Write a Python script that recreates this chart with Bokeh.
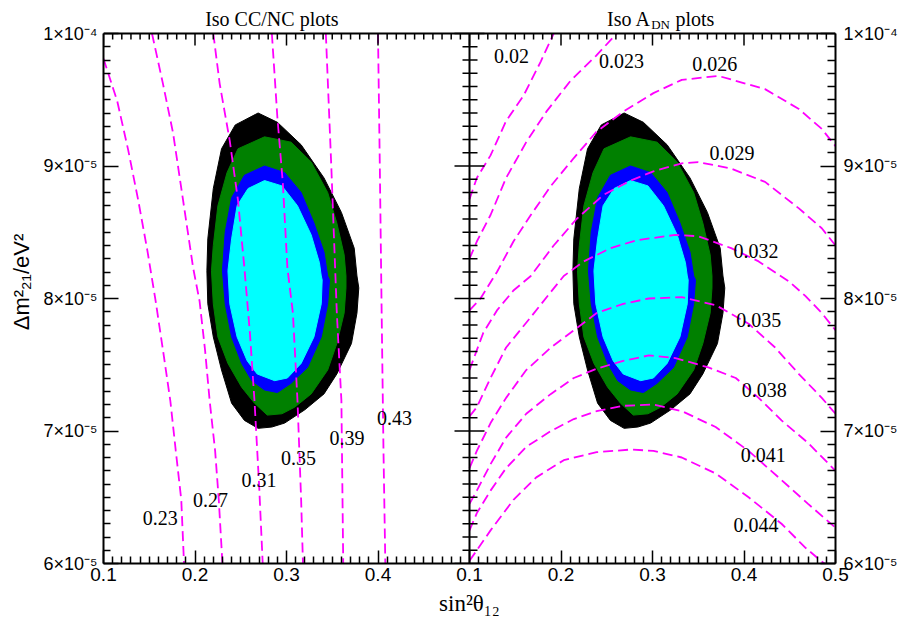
import numpy as np
from bokeh.plotting import figure
from bokeh.models import Range1d, LinearAxis, FixedTicker, Label, Span
from bokeh.core.properties import value
from bokeh.embed import file_html
from bokeh.resources import INLINE

SANS = "Liberation Sans"
SERIF = "Liberation Serif"
MAGENTA = "#ff00ff"

# ---------------- data (y in units of 1e-5 eV^2) ----------------
# allowed regions (same in both panels)
black_x = [0.269, 0.290, 0.316, 0.341, 0.360, 0.374, 0.377, 0.379, 0.377, 0.371, 0.355, 0.341, 0.320,
           0.298, 0.284, 0.269, 0.254, 0.240, 0.229, 0.220, 0.214, 0.213, 0.214, 0.220, 0.229, 0.244]
black_y = [9.40, 9.33, 9.16, 8.91, 8.65, 8.38, 8.17, 8.08, 7.89, 7.66, 7.43, 7.28, 7.16,
           7.06, 7.03, 7.02, 7.08, 7.21, 7.46, 7.71, 7.96, 8.21, 8.45, 8.83, 9.13, 9.31]
green_x = [0.276, 0.305, 0.327, 0.345, 0.355, 0.363, 0.365, 0.365, 0.363, 0.355, 0.345, 0.327, 0.309,
           0.295, 0.279, 0.265, 0.251, 0.236, 0.225, 0.220, 0.218, 0.220, 0.225, 0.235, 0.247]
green_y = [9.22, 9.18, 9.03, 8.80, 8.57, 8.33, 8.17, 8.08, 7.89, 7.66, 7.46, 7.28, 7.18,
           7.13, 7.12, 7.21, 7.33, 7.51, 7.71, 7.96, 8.21, 8.40, 8.70, 8.95, 9.13]
blue_x = [0.276, 0.298, 0.316, 0.330, 0.341, 0.345, 0.347, 0.345, 0.338, 0.323, 0.305, 0.290, 0.276,
          0.262, 0.251, 0.240, 0.233, 0.230, 0.233, 0.240, 0.254]
blue_y = [9.00, 8.95, 8.80, 8.57, 8.35, 8.17, 8.14, 7.96, 7.71, 7.48, 7.36, 7.29, 7.31,
          7.38, 7.51, 7.71, 7.96, 8.21, 8.50, 8.76, 8.93]
cyan_x = [0.276, 0.295, 0.312, 0.327, 0.336, 0.338, 0.339, 0.338, 0.330, 0.316, 0.301, 0.287, 0.268,
          0.257, 0.246, 0.238, 0.236, 0.240, 0.246, 0.258]
cyan_y = [8.89, 8.85, 8.70, 8.48, 8.27, 8.17, 8.14, 7.96, 7.71, 7.51, 7.40, 7.38, 7.43,
          7.53, 7.71, 7.96, 8.21, 8.45, 8.70, 8.83]

# Iso CC/NC lines (left panel)
cc_levels = ["0.23", "0.27", "0.31", "0.35", "0.39", "0.43"]
cc_x = [
    [0.100, 0.115, 0.127, 0.138, 0.148, 0.157, 0.165, 0.173, 0.179, 0.185, 0.188],
    [0.153, 0.165, 0.176, 0.187, 0.198, 0.205, 0.211, 0.216, 0.222, 0.226, 0.230],
    [0.220, 0.227, 0.238, 0.247, 0.254, 0.260, 0.265, 0.270, 0.274],
    [0.284, 0.290, 0.296, 0.301, 0.307, 0.312, 0.316, 0.318],
    [0.343, 0.349, 0.355, 0.360, 0.362],
    [0.400, 0.402, 0.404, 0.406, 0.408],
]
cc_y = [
    [9.81, 9.49, 9.12, 8.74, 8.36, 7.98, 7.61, 7.23, 6.85, 6.48, 6.00],
    [10.0, 9.62, 9.25, 8.74, 8.23, 7.98, 7.61, 7.23, 6.85, 6.48, 6.00],
    [10.0, 9.62, 9.19, 8.74, 8.23, 7.74, 7.23, 6.60, 6.00],
    [10.0, 9.37, 8.87, 8.23, 7.89, 7.23, 6.48, 6.00],
    [10.0, 8.99, 7.89, 7.23, 6.00],
    [10.0, 8.99, 7.89, 6.85, 6.00],
]
cc_label_x = [0.162, 0.217, 0.270, 0.313, 0.366, 0.418]
cc_label_y = [6.34, 6.48, 6.63, 6.80, 6.95, 7.10]

# Iso A_DN lines (right panel)
adn_levels = ["0.02", "0.023", "0.026", "0.029", "0.032", "0.035", "0.038", "0.041", "0.044"]
adn_x = [
    [0.100, 0.108, 0.123, 0.140, 0.159, 0.178, 0.192],
    [0.100, 0.108, 0.123, 0.140, 0.162, 0.184, 0.210, 0.238, 0.261],
    [0.100, 0.112, 0.130, 0.148, 0.167, 0.189, 0.214, 0.239, 0.268, 0.301, 0.332, 0.372, 0.423, 0.460, 0.485, 0.500],
    [0.100, 0.108, 0.115, 0.130, 0.148, 0.167, 0.192, 0.217, 0.246, 0.276, 0.301, 0.332, 0.350, 0.386, 0.423, 0.460, 0.485, 0.500],
    [0.100, 0.108, 0.123, 0.140, 0.167, 0.189, 0.203, 0.225, 0.254, 0.283, 0.325, 0.350, 0.386, 0.416, 0.449, 0.467, 0.485, 0.500],
    [0.100, 0.108, 0.123, 0.140, 0.162, 0.189, 0.214, 0.239, 0.268, 0.296, 0.332, 0.369, 0.405, 0.434, 0.460, 0.485, 0.500],
    [0.100, 0.108, 0.123, 0.140, 0.162, 0.189, 0.214, 0.239, 0.268, 0.296, 0.325, 0.361, 0.391, 0.416, 0.441, 0.470, 0.500],
    [0.100, 0.108, 0.123, 0.140, 0.162, 0.189, 0.214, 0.239, 0.268, 0.301, 0.332, 0.369, 0.405, 0.441, 0.470, 0.500],
    [0.100, 0.108, 0.123, 0.148, 0.173, 0.203, 0.239, 0.276, 0.301, 0.332, 0.369, 0.405, 0.441, 0.467, 0.484, 0.488],
]
adn_y = [
    [8.75, 8.91, 9.08, 9.34, 9.53, 9.79, 10.00],
    [8.30, 8.43, 8.63, 8.91, 9.18, 9.41, 9.64, 9.83, 10.00],
    [7.91, 8.00, 8.20, 8.43, 8.63, 8.85, 9.06, 9.26, 9.41, 9.55, 9.65, 9.68, 9.58, 9.43, 9.28, 9.15],
    [7.46, 7.61, 7.74, 7.91, 8.06, 8.17, 8.40, 8.60, 8.78, 8.89, 8.96, 9.02, 9.03, 8.98, 8.88, 8.68, 8.53, 8.40],
    [7.11, 7.18, 7.40, 7.63, 7.86, 8.05, 8.17, 8.28, 8.38, 8.44, 8.48, 8.47, 8.38, 8.28, 8.13, 8.02, 7.89, 7.76],
    [6.72, 6.85, 7.06, 7.25, 7.46, 7.63, 7.76, 7.89, 7.96, 8.00, 8.01, 7.95, 7.81, 7.63, 7.43, 7.25, 7.13],
    [6.45, 6.55, 6.75, 6.95, 7.13, 7.28, 7.40, 7.47, 7.53, 7.57, 7.55, 7.48, 7.40, 7.25, 7.08, 6.91, 6.70],
    [6.25, 6.38, 6.55, 6.72, 6.88, 7.00, 7.09, 7.15, 7.19, 7.20, 7.15, 7.03, 6.85, 6.63, 6.45, 6.27],
    [6.02, 6.10, 6.25, 6.48, 6.65, 6.78, 6.84, 6.86, 6.85, 6.80, 6.68, 6.50, 6.30, 6.12, 6.02, 6.00],
]
adn_label_x = [0.146, 0.266, 0.368, 0.387, 0.413, 0.416, 0.422, 0.421, 0.413]
adn_label_y = [9.83, 9.79, 9.77, 9.10, 8.36, 7.84, 7.31, 6.82, 6.29]

# ticks (shared bottom axis: left panel 0.1-0.5, right panel shifted by 0.4)
x_ticks = [0.1, 0.2, 0.3, 0.4, 0.5, 0.6, 0.7, 0.8, 0.9]
x_tick_labels = ["0.1", "0.2", "0.3", "0.4", "0.1", "0.2", "0.3", "0.4", "0.5"]
y_ticks = [6, 7, 8, 9, 10]
y_tick_labels = ["6\u00d710\u207b\u2075", "7\u00d710\u207b\u2075", "8\u00d710\u207b\u2075",
                 "9\u00d710\u207b\u2075", "1\u00d710\u207b\u2074"]
x_minor = [round(0.1 + 0.01 * i, 2) for i in range(81)]
x_minor = [t for t in x_minor if min(abs(t - m) for m in x_ticks) > 1e-6]
y_minor = [round(6 + 0.1 * i, 1) for i in range(41)]
y_minor = [t for t in y_minor if min(abs(t - m) for m in y_ticks) > 1e-6]

Y_LO, Y_HI = y_ticks[0], y_ticks[-1]
PX_PER_UNIT = 132.5                      # frame: 530 px for 4 units
TOP_SPACE = 33                           # px kept above the plot box for the titles
Y_TOP = Y_HI + TOP_SPACE / PX_PER_UNIT   # frame extends to the canvas top

p = figure(width=900, height=623, output_backend="svg", toolbar_location=None,
           x_range=Range1d(0.1, 0.9), y_range=Range1d(Y_LO, Y_TOP),
           x_axis_location=None, y_axis_location=None, title_location=None,
           min_border_left=103, min_border_right=63, min_border_top=0, min_border_bottom=60)
p.extra_x_ranges = {"r": Range1d(-0.3, 0.5)}
p.grid.visible = False
p.outline_line_color = None


def style_axis(ax, tick_in, minor_in, size):
    ax.axis_line_width = 2
    ax.major_tick_in = tick_in
    ax.major_tick_out = 0
    ax.minor_tick_in = minor_in
    ax.minor_tick_out = 0
    ax.major_tick_line_width = 1.5
    ax.minor_tick_line_width = 1.5
    ax.major_label_text_font = SANS
    ax.major_label_text_color = "black"
    ax.major_label_text_font_size = size
    ax.axis_label_text_color = "black"
    ax.axis_label_text_font_style = "normal"


xb = LinearAxis(ticker=FixedTicker(ticks=x_ticks, minor_ticks=x_minor),
                major_label_overrides=dict(zip(x_ticks, x_tick_labels)))
style_axis(xb, 13, 7, "19px")
xb.major_label_standoff = 4
xb.axis_label = "sin\u00b2\u03b8\u2081\u2082"
xb.axis_label_text_font = SERIF
xb.axis_label_text_font_size = "23px"
xb.axis_label_standoff = 7
p.add_layout(xb, "below")

yl = LinearAxis(ticker=FixedTicker(ticks=y_ticks, minor_ticks=y_minor),
                major_label_overrides=dict(zip(y_ticks, y_tick_labels)), bounds=(Y_LO, Y_HI))
style_axis(yl, 15, 7, "18px")
yl.major_label_standoff = 6
yl.axis_label = "\u0394m\u00b2\u2082\u2081/eV\u00b2"
yl.axis_label_text_font = SANS
yl.axis_label_text_font_size = "22px"
yl.axis_label_standoff = 6
p.add_layout(yl, "left")

yr = LinearAxis(ticker=FixedTicker(ticks=y_ticks, minor_ticks=y_minor),
                major_label_overrides=dict(zip(y_ticks, y_tick_labels)), bounds=(Y_LO, Y_HI))
style_axis(yr, 15, 8, "18px")
yr.major_label_standoff = 8
p.add_layout(yr, "right")

# allowed regions in both panels
for xs, ys, col in [(black_x, black_y, "#000000"), (green_x, green_y, "#008000"),
                    (blue_x, blue_y, "#0000ff"), (cyan_x, cyan_y, "#00ffff")]:
    p.patch(xs, ys, fill_color=col, line_color=col, line_width=1)
    p.patch(xs, ys, fill_color=col, line_color=col, line_width=1, x_range_name="r")

# iso lines
p.multi_line(xs=cc_x, ys=cc_y, line_color=MAGENTA, line_width=1.8, line_dash="10 5")
p.multi_line(xs=adn_x, ys=adn_y, line_color=MAGENTA, line_width=1.8, line_dash="10 5",
             x_range_name="r")

p.text(x=cc_label_x, y=cc_label_y, text=cc_levels, text_font=value(SERIF),
       text_font_size=value("20px"), text_align="center", text_baseline="middle",
       text_color="black")
p.text(x=adn_label_x, y=adn_label_y, text=adn_levels, text_font=value(SERIF),
       text_font_size=value("20px"), text_align="center", text_baseline="middle",
       text_color="black", x_range_name="r")

# top border of the box with inward ticks
p.add_layout(Span(location=Y_HI, dimension="width", line_color="black", line_width=2))
p.ray(x=x_ticks, y=[Y_HI] * len(x_ticks), length=12, length_units="screen",
      angle=-np.pi / 2, line_color="black", line_width=1.5)
p.ray(x=x_minor, y=[Y_HI] * len(x_minor), length=6, length_units="screen",
      angle=-np.pi / 2, line_color="black", line_width=1.5)

# middle divider with ticks on both sides
p.line(x=[x_ticks[4], x_ticks[4]], y=[Y_LO, Y_HI], line_color="black", line_width=2)
for ang, lmaj, lmin in [(0.0, 15, 8), (np.pi, 15, 7)]:
    p.ray(x=[x_ticks[4]] * len(y_ticks), y=y_ticks, length=lmaj, length_units="screen",
          angle=ang, line_color="black", line_width=1.5)
    p.ray(x=[x_ticks[4]] * len(y_minor), y=y_minor, length=lmin, length_units="screen",
          angle=ang, line_color="black", line_width=1.5)

# panel titles (above the box, inside the frame)
title_style = dict(text_font=SERIF, text_color="black", text_baseline="alphabetic")
p.add_layout(Label(x=0.284, y=Y_HI + 15 / PX_PER_UNIT, text="Iso CC/NC plots",
                   text_font_size="20px", text_align="center", **title_style))
p.add_layout(Label(x=0.2504, y=Y_HI + 15 / PX_PER_UNIT, text="Iso A", text_font_size="20px",
                   text_align="left", x_range_name="r", **title_style))
p.add_layout(Label(x=0.2985, y=Y_HI + 9 / PX_PER_UNIT, text="DN", text_font_size="13px",
                   text_align="left", x_range_name="r", **title_style))
p.add_layout(Label(x=0.325, y=Y_HI + 15 / PX_PER_UNIT, text="plots", text_font_size="20px",
                   text_align="left", x_range_name="r", **title_style))

open("out.html", "w", encoding="utf-8").write(file_html(p, INLINE))
